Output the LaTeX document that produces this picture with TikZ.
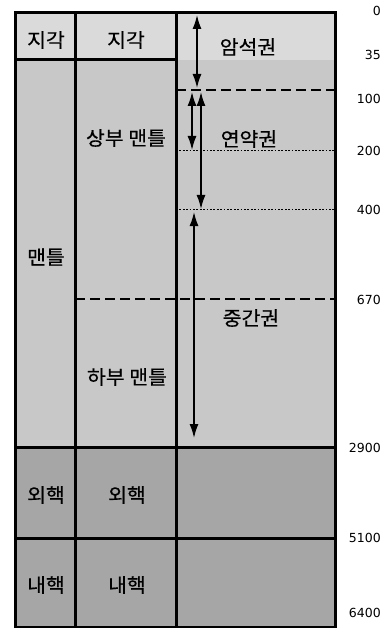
\documentclass[tikz,border=0pt]{standalone}
\usepackage{fontspec}
\setmainfont{Noto Sans CJK KR}[FakeBold=0.5,FakeStretch=1.05]
\newfontfamily\numfont{DejaVu Sans}
\usetikzlibrary{arrows.meta}
\definecolor{crustc}{HTML}{DADADA}
\definecolor{mantlec}{HTML}{C8C8C8}
\definecolor{corec}{HTML}{A6A6A6}
\begin{document}
\begin{tikzpicture}[x=1pt,y=-1pt,
 lbl/.style={font=\fontsize{19.5}{21}\selectfont, inner sep=0pt},
 num/.style={font=\numfont\fontsize{12.5}{14}\selectfont, anchor=east, inner sep=0pt},
 border/.style={line width=3pt},
 dashline/.style={line width=2.3pt, dash pattern=on 10pt off 5pt},
 dotline/.style={line width=1pt, dash pattern=on 1.7pt off 1.7pt},
 dimarrow/.style={line width=1.5pt, {Latex[length=14pt,width=9pt]}-{Latex[length=14pt,width=9pt]}}]
\useasboundingbox (0,0) rectangle (390,628);
\fill[white] (0,0) rectangle (390,628);
% fills
\fill[crustc] (15,13) rectangle (335,60);
\fill[mantlec] (15,60) rectangle (335,447);
\fill[corec] (15,447) rectangle (335,627);
% layer boundaries inside the third column
\draw[dashline] (176,90) -- (335,90);
\draw[dotline] (176,151) -- (335,151);
\draw[dotline] (176,210) -- (335,210);
\draw[dashline] (75,299) -- (335,299);
% grid
\draw[border] (15,13) rectangle (335,627);
\draw[border] (75,13) -- (75,627);
\draw[border] (176,13) -- (176,627);
\draw[border] (15,60) -- (176,60);
\draw[border] (15,447) -- (335,447);
\draw[border] (15,538) -- (335,538);
% labels
\node[lbl] (c1) at (46,40) {지각};
\node[lbl] (c2) at (126,40) {지각};
\node[lbl] (lith) at (248,47) {암석권};
\node[lbl] (um) at (126,138) {상부 맨틀};
\node[lbl] (asth) at (249,139) {연약권};
\node[lbl] (mantle) at (46,257) {맨틀};
\node[lbl] (meso) at (251,318) {중간권};
\node[lbl] (lm) at (127,377) {하부 맨틀};
\node[lbl] (oc1) at (46,495) {외핵};
\node[lbl] (oc2) at (127,495) {외핵};
\node[lbl] (ic1) at (46,585) {내핵};
\node[lbl] (ic2) at (127,585) {내핵};
% depth numbers
\node[num] (d0) at (381,11) {0};
\node[num] (d35) at (381,55) {35};
\node[num] (d100) at (381,99) {100};
\node[num] (d200) at (381,151) {200};
\node[num] (d400) at (381,210) {400};
\node[num] (d670) at (381,300) {670};
\node[num] (d2900) at (381,448) {2900};
\node[num] (d5100) at (381,538) {5100};
\node[num] (d6400) at (381,613) {6400};
% arrow end points
\coordinate (a1t) at (197,15);
\coordinate (a1b) at (197,88);
\coordinate (a2t) at (192,92);
\coordinate (a2b) at (192,150);
\coordinate (a3t) at (201,92);
\coordinate (a3b) at (201,209);
\coordinate (a4t) at (194,212);
\coordinate (a4b) at (194,438);
\draw[dimarrow] (a1t) -- (a1b);
\draw[dimarrow] (a2t) -- (a2b);
\draw[dimarrow] (a3t) -- (a3b);
\draw[dimarrow] (a4t) -- (a4b);
\end{tikzpicture}
\end{document}
